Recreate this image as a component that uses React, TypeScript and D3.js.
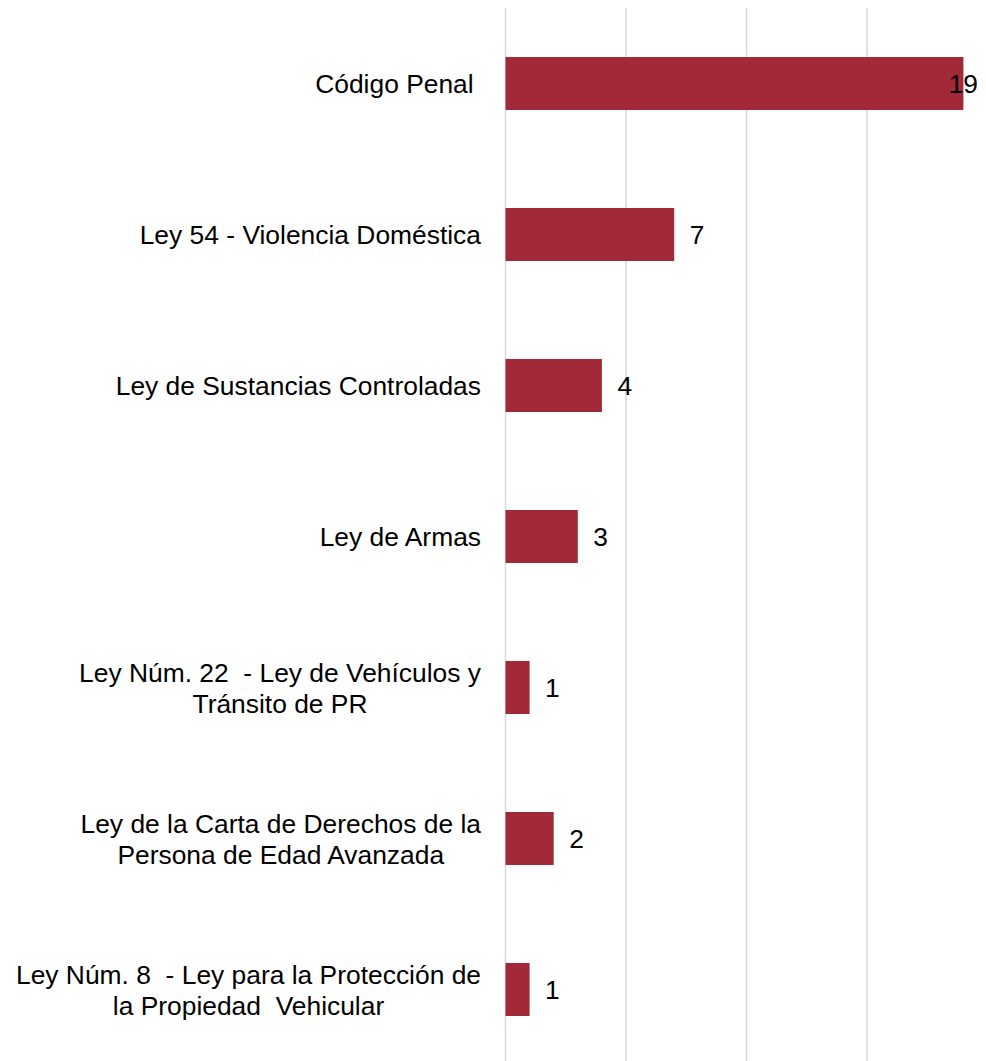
import React, { useEffect, useRef } from "react";
import * as d3 from "d3";

const categories: string[][] = [
  ["Código Penal "],
  ["Ley 54 - Violencia Doméstica"],
  ["Ley de Sustancias Controladas"],
  ["Ley de Armas"],
  ["Ley Núm. 22  - Ley de Vehículos y", "Tránsito de PR"],
  ["Ley de la Carta de Derechos de la", "Persona de Edad Avanzada"],
  ["Ley Núm. 8  - Ley para la Protección de", "la Propiedad  Vehicular"],
];
const values: number[] = [19, 7, 4, 3, 1, 2, 1];
const gridTicks: number[] = [0, 5, 10, 15, 20];

const W = 986;
const H = 1061;
const FS = 26.4;
const COLOR = "#A12938";
const FONT = "'Liberation Sans', Arial, sans-serif";

export default function App() {
  const ref = useRef<SVGSVGElement>(null);
  useEffect(() => {
    const svg = d3.select(ref.current);
    svg.selectAll("*").remove();
    const x = d3.scaleLinear().domain([0, 20]).range([505.5, 987.5]);
    const y = d3
      .scaleBand<number>()
      .domain(d3.range(values.length))
      .range([8, 1065])
      .paddingInner(0.649)
      .paddingOuter(0.3245);

    svg
      .append("g")
      .selectAll("line")
      .data(gridTicks)
      .join("line")
      .attr("x1", (d) => x(d))
      .attr("x2", (d) => x(d))
      .attr("y1", 8)
      .attr("y2", H)
      .attr("stroke", "#d9d9d9")
      .attr("stroke-width", 1.5);

    svg
      .append("g")
      .selectAll("rect")
      .data(values)
      .join("rect")
      .attr("x", x(0))
      .attr("y", (_, i) => y(i)!)
      .attr("width", (d) => x(d) - x(0))
      .attr("height", y.bandwidth())
      .attr("fill", COLOR);

    // category labels
    const labelRight = 481;
    const lh = 31;
    categories.forEach((lines, i) => {
      const cy = y(i)! + y.bandwidth() / 2;
      const t = svg
        .append("text")
        .attr("font-family", FONT)
        .attr("font-size", FS)
        .attr("fill", "#000")
        .style("white-space", "pre");
      const n = lines.length;
      const tspans = lines.map((l, k) =>
        t
          .append("tspan")
          .attr("y", cy + 9.2 + (k - (n - 1) / 2) * lh + (n > 1 ? 1 : 0))
          .text(l)
      );
      if (n === 1) {
        t.attr("text-anchor", "end");
        tspans[0].attr("x", labelRight);
      } else {
        const widths = tspans.map((s) => (s.node() as SVGTSpanElement).getComputedTextLength());
        const maxW = Math.max(...widths);
        const cx = labelRight - maxW / 2;
        t.attr("text-anchor", "middle");
        tspans.forEach((s) => s.attr("x", cx));
      }
    });

    // value labels
    values.forEach((v, i) => {
      const cy = y(i)! + y.bandwidth() / 2;
      const t = svg
        .append("text")
        .attr("font-family", FONT)
        .attr("font-size", FS)
        .attr("fill", "#000")
        .attr("y", cy + 9.2)
        .text(String(v));
      const w = (t.node() as SVGTextElement).getComputedTextLength();
      let lx = x(v) + 15.5;
      if (lx + w > 978) lx = 978 - w;
      t.attr("x", lx);
    });
  }, []);

  return (
    <svg
      ref={ref}
      width={W}
      height={H}
      style={{ position: "absolute", left: 0, top: 0, background: "#fff" }}
    />
  );
}
